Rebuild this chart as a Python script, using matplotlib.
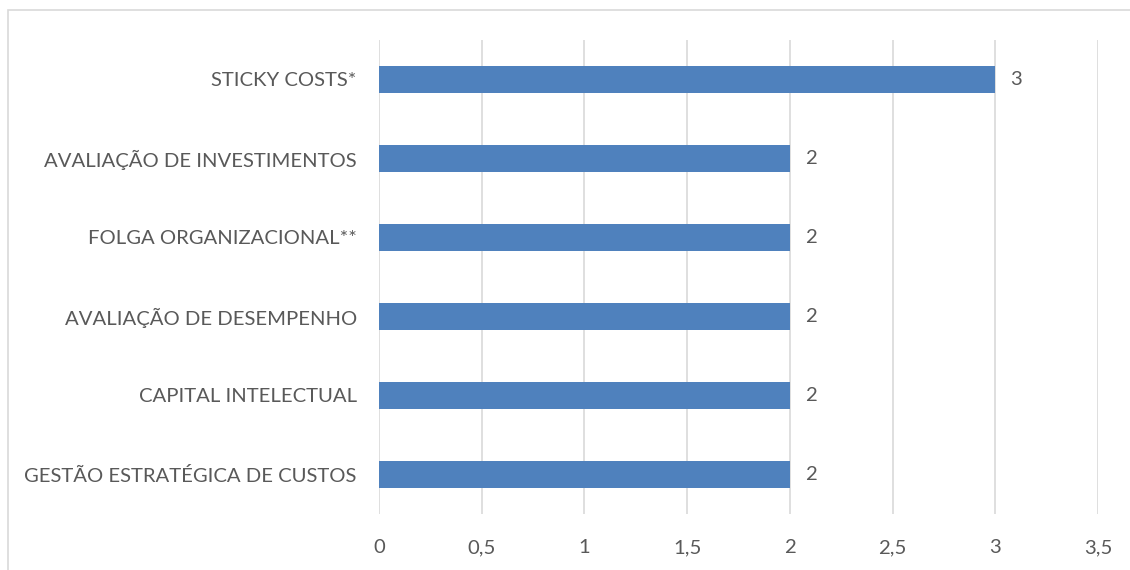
import matplotlib.pyplot as plt
from matplotlib.patches import Rectangle
from matplotlib.ticker import FuncFormatter, MultipleLocator

# temas e numero de trabalhos (de baixo para cima)
temas = ['GESTÃO ESTRATÉGICA DE CUSTOS', 'CAPITAL INTELECTUAL',
         'AVALIAÇÃO DE DESEMPENHO', 'FOLGA ORGANIZACIONAL**',
         'AVALIAÇÃO DE INVESTIMENTOS', 'STICKY COSTS*']
qtd = [2, 2, 2, 2, 2, 3]

plt.rcParams['font.family'] = ['Lato', 'DejaVu Sans']
cinza = '#595959'
fs = 14.6

fig = plt.figure(figsize=(11.3, 5.7), dpi=100)
ax = fig.add_axes([379 / 1130, 56 / 570, 719 / 1130, 474 / 570])

ax.barh(range(len(temas)), qtd, height=0.34, color='#4F81BD', zorder=3)
for i, v in enumerate(qtd):
    ax.annotate(str(v), (v, i), xytext=(11, 0), textcoords='offset points',
                va='center', ha='left', fontsize=fs, color=cinza)

ax.set_xlim(0, 3.5)
ax.set_ylim(-0.5, len(temas) - 0.5)
ax.set_yticks(range(len(temas)))
ax.set_yticklabels(temas)
ax.xaxis.set_major_locator(MultipleLocator(0.5))
ax.xaxis.set_major_formatter(FuncFormatter(lambda x, p: ('%g' % x).replace('.', ',')))
ax.tick_params(length=0, labelsize=fs, labelcolor=cinza)
ax.tick_params(axis='x', pad=18)
ax.tick_params(axis='y', pad=16)
ax.grid(axis='x', color='#d9d9d9', linewidth=1.2, zorder=0)
for s in ax.spines.values():
    s.set_visible(False)

# moldura do grafico
fig.patches.append(Rectangle((8 / 1130, -0.1), 1.2, 560 / 570 + 0.1,
                             transform=fig.transFigure, fill=False,
                             edgecolor='#d9d9d9', linewidth=1.2))

fig.savefig('out.png', dpi=100)
